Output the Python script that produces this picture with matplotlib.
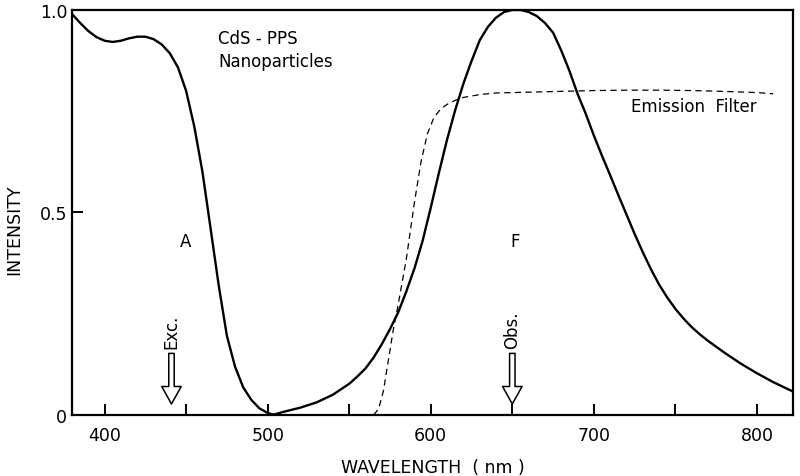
import numpy as np
import matplotlib
matplotlib.use('Agg')
import matplotlib.pyplot as plt

# absorption curve (A)
abs_nm = [380, 385, 390, 395, 400, 405, 410, 415, 420, 425, 430, 435, 440, 445,
          450, 455, 460, 465, 470, 475, 480, 485, 490, 495, 500, 504]
abs_I = [0.99, 0.968, 0.948, 0.933, 0.924, 0.921, 0.924, 0.930, 0.934, 0.934, 0.928,
         0.915, 0.893, 0.858, 0.800, 0.712, 0.600, 0.460, 0.319, 0.195, 0.119,
         0.068, 0.037, 0.016, 0.005, 0.0]

# emission curve (F)
em_nm = [503, 510, 520, 530, 540, 550, 555, 560, 565, 570, 575, 580, 585, 590, 595,
         600, 605, 610, 615, 620, 625, 630, 635, 640, 645, 650, 655, 660, 665, 670,
         675, 680, 685, 690, 695, 700, 705, 710, 715, 720, 725, 730, 735, 740, 745,
         750, 755, 760, 765, 770, 780, 790, 800, 810, 822]
em_I = [0.0, 0.008, 0.018, 0.031, 0.050, 0.077, 0.095, 0.115, 0.142, 0.175, 0.212,
        0.253, 0.305, 0.362, 0.430, 0.512, 0.598, 0.680, 0.753, 0.818, 0.874, 0.925,
        0.958, 0.981, 0.995, 1.0, 1.0, 0.995, 0.985, 0.968, 0.944, 0.900, 0.850,
        0.793, 0.744, 0.690, 0.640, 0.592, 0.543, 0.495, 0.447, 0.402, 0.360, 0.322,
        0.290, 0.262, 0.238, 0.217, 0.199, 0.183, 0.154, 0.127, 0.103, 0.081, 0.058]

# emission filter transmission (dashed)
filt_nm = [565, 568, 571, 574, 577, 580, 585, 590, 594, 598, 602, 606, 610, 615, 620,
           630, 640, 660, 680, 700, 720, 740, 760, 780, 800, 810]
filt_I = [0.0, 0.015, 0.06, 0.135, 0.21, 0.272, 0.385, 0.525, 0.625, 0.695, 0.735,
          0.755, 0.767, 0.777, 0.784, 0.791, 0.795, 0.797, 0.799, 0.801, 0.802, 0.802,
          0.801, 0.799, 0.796, 0.793]

exc_nm = 441
obs_nm = 650

fig = plt.figure(figsize=(8, 4.77), dpi=100)
ax = fig.add_axes([0.09, 0.128, 0.901, 0.849])

ax.plot(abs_nm, abs_I, color='black', lw=1.7)
ax.plot(em_nm, em_I, color='black', lw=1.7)
ax.plot(filt_nm, filt_I, color='black', lw=0.9, ls=(0, (5, 3.5)))

ax.set_xlim(380, 822)
ax.set_ylim(0, 1.0)
ax.set_xticks([400, 500, 600, 700, 800])
ax.set_xticks([450, 550, 650, 750], minor=True)
ax.set_yticks([0, 0.5, 1.0])
ax.set_yticklabels(['0', '0.5', '1.0'])
ax.tick_params(which='both', direction='in', length=8, width=1.4, labelsize=12.5)
ax.tick_params(axis='x', pad=8)
for s in ax.spines.values():
    s.set_linewidth(1.6)

ax.set_xlabel('WAVELENGTH  ( nm )', fontsize=12.5, labelpad=10)
ax.set_ylabel('INTENSITY', fontsize=12.5)
ax.yaxis.set_label_coords(-0.068, 0.46)

ax.text(0.203, 0.93, 'CdS - PPS', transform=ax.transAxes, fontsize=12, va='center')
ax.text(0.203, 0.875, 'Nanoparticles', transform=ax.transAxes, fontsize=12, va='center')
ax.text(800, 0.763, 'Emission  Filter', fontsize=12, ha='right', va='center')
ax.text(449.5, 0.43, 'A', fontsize=12, ha='center', va='center')
ax.text(652, 0.43, 'F', fontsize=12, ha='center', va='center')

for x, lab in [(exc_nm, 'Exc.'), (obs_nm, 'Obs.')]:
    ax.annotate('', xy=(x, 0.027), xytext=(x, 0.152),
                arrowprops=dict(arrowstyle='simple,head_width=1.0,head_length=0.9,tail_width=0.28',
                                fc='white', ec='black', lw=1.1, mutation_scale=14,
                                shrinkA=0, shrinkB=0))
    ax.text(x, 0.165, lab, rotation=90, fontsize=12, ha='center', va='bottom')

fig.savefig('out.png', dpi=100)
